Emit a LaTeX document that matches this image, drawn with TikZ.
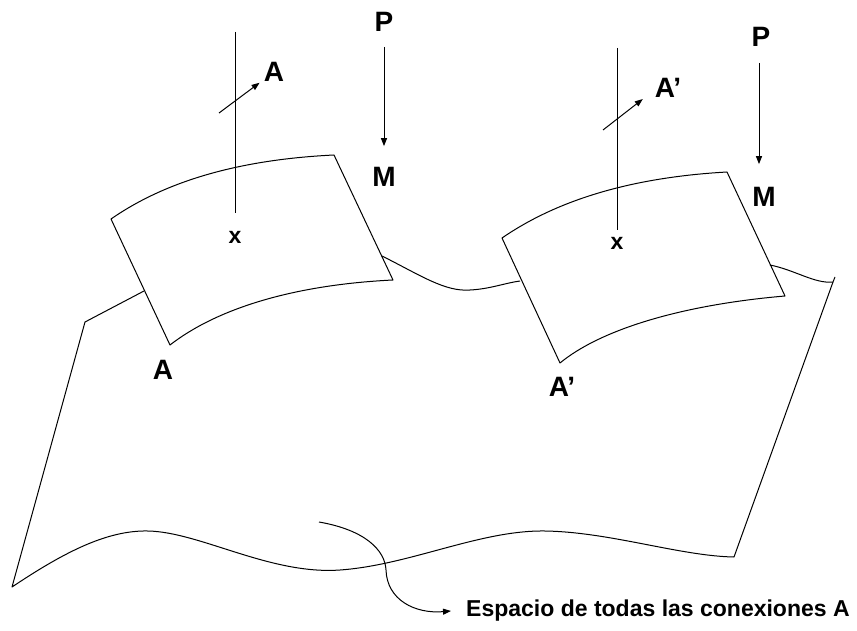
\documentclass[tikz,border=0pt]{standalone}
\usepackage{fontspec}
\setmainfont{Liberation Sans}
\usetikzlibrary{arrows.meta}
\tikzset{
  lbl/.style={font=\bfseries\fontsize{28}{28}\selectfont, inner sep=0pt},
  xlbl/.style={font=\bfseries\fontsize{23}{23}\selectfont, inner sep=0pt},
  txt/.style={font=\bfseries\fontsize{23}{23}\selectfont, inner sep=0pt, anchor=west},
  edge/.style={line width=1pt, line join=round},
  arr/.style={line width=1pt, -{Triangle[length=8pt,width=6pt]}},
}
\begin{document}
\begin{tikzpicture}[x=1pt,y=-1pt]
\useasboundingbox (0,0) rectangle (857,631);
% ---- large sheet (space of connections)
\draw[edge] (144,291) -- (85,322) -- (12,587)
  .. controls (60,555) and (105,530) .. (148,531)
  .. controls (200,532) and (270,575) .. (340,570)
  .. controls (410,565) and (480,530) .. (545,531)
  .. controls (610,532) and (680,556) .. (734,557)
  -- (833,282) -- (835,277);
\draw[edge] (770,265) .. controls (795,270) and (815,284) .. (833,282);
\draw[edge] (382,256) .. controls (420,275) and (445,292) .. (470,290)
  .. controls (490,289) and (505,283) .. (520,281);
% ---- left patch
\draw[edge] (111,219) .. controls (160,185) and (230,160) .. (334,155)
  -- (393,280) .. controls (290,285) and (215,310) .. (170,345) -- cycle;
% ---- right patch
\draw[edge] (502,238) .. controls (550,205) and (620,178) .. (727,172)
  -- (785,296) .. controls (680,305) and (600,330) .. (560,363) -- cycle;
% ---- left fibre
\coordinate (lt) at (235,32);
\node[xlbl] (lx) at (235,237) {x};
\draw[edge, shorten >=24pt] (lt) -- (lx.center);
\coordinate (la0) at (219,113);
\node[lbl] (lA) at (274,72) {A};
\draw[arr, shorten >=18pt] (la0) -- (lA.center);
\node[lbl] (lP) at (384,22) {P};
\node[lbl] (lM) at (384,177) {M};
\draw[arr, shorten <=15pt, shorten >=21pt] (lP.south) -- (lM.north);
\node[lbl] (lAb) at (163,370) {A};
% ---- right fibre
\coordinate (rt) at (617,48);
\node[xlbl] (rx) at (617,243) {x};
\draw[edge, shorten >=13pt] (rt) -- (rx.center);
\coordinate (ra0) at (603,130);
\node[lbl] (rA) at (668,88) {A’};
\draw[arr, shorten >=18pt] (ra0) -- ([xshift=-11pt]rA.center);
\node[lbl] (rP) at (761,37) {P};
\node[lbl] (rM) at (764,197) {M};
\draw[arr, shorten <=16pt, shorten >=23pt] ([xshift=-2pt]rP.south) -- ([xshift=-5pt]rM.north);
\node[lbl] (rAb) at (562,387) {A’};
% ---- caption arrow
\node[txt] (cap) at (466,611) {Espacio de todas las conexiones A};
\coordinate (cs) at (319,522);
\draw[arr] (cs) .. controls (365,530) and (385,550) .. (386,570)
  .. controls (387,600) and (415,614) .. ([xshift=-15pt]cap.west);
\end{tikzpicture}
\end{document}
